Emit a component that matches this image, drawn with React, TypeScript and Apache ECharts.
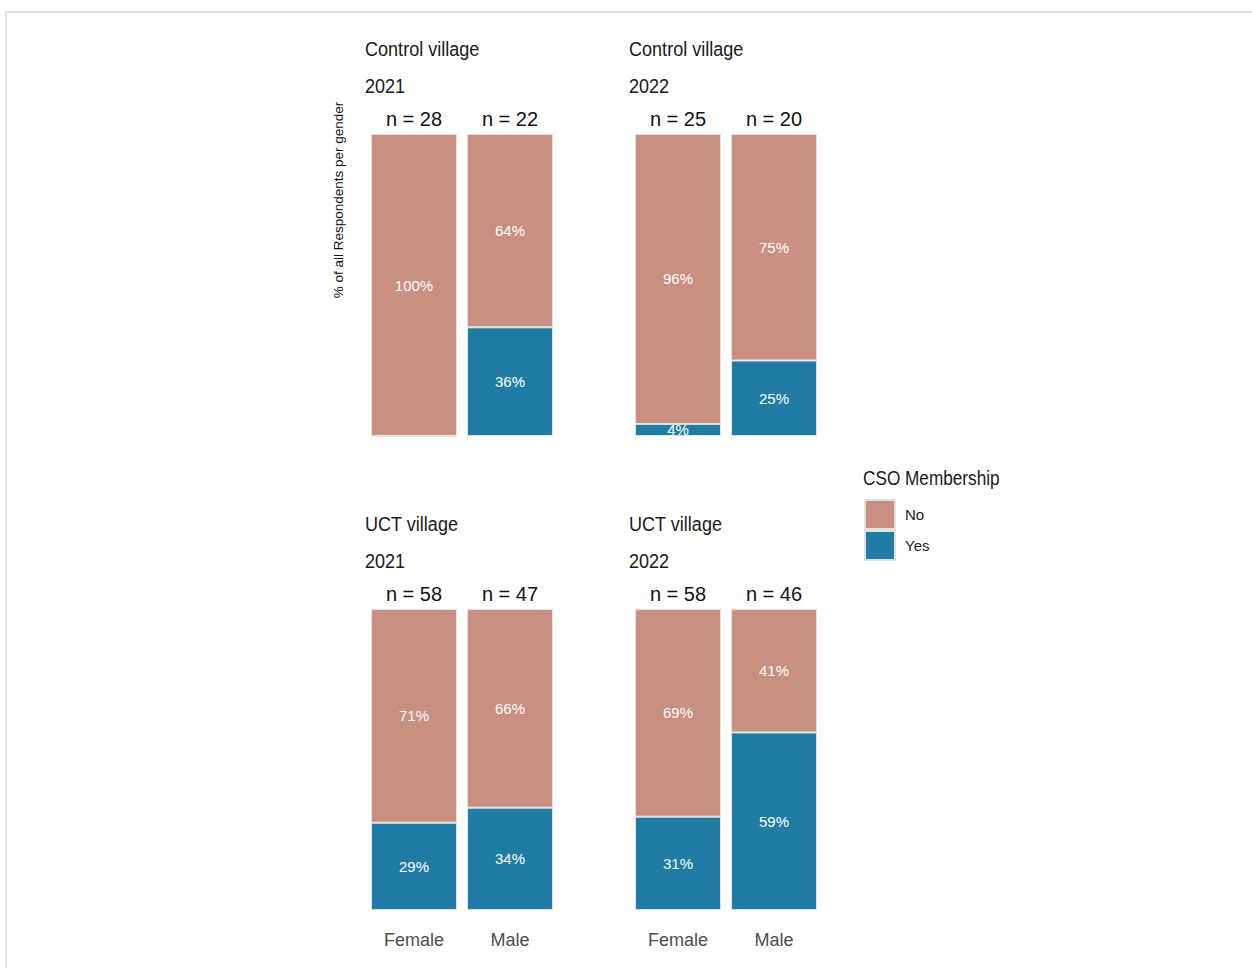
import React, { useEffect, useRef } from "react";
import * as echarts from "echarts";

const genders = ["Female", "Male"];
const panelVillages = ["Control village", "Control village", "UCT village", "UCT village"];
const panelYears = ["2021", "2022", "2021", "2022"];
const panelN = [
  [28, 22],
  [25, 20],
  [58, 47],
  [58, 46],
];
const yesValues = [
  [0, 36],
  [4, 25],
  [29, 34],
  [31, 59],
];
const noValues = [
  [100, 64],
  [96, 75],
  [71, 66],
  [69, 41],
];

const NO_COLOR = "#C98F80";
const YES_COLOR = "#217CA3";
const SANS = "'Liberation Sans', Arial, sans-serif";
const NARROW_SCALE = 0.86;

const gridPos = [
  { left: 366, top: 134, height: 302 },
  { left: 630, top: 134, height: 302 },
  { left: 366, top: 609, height: 301 },
  { left: 630, top: 609, height: 301 },
];

export default function App() {
  const ref = useRef<HTMLDivElement>(null);
  useEffect(() => {
    if (!ref.current) return;
    const chart = echarts.init(ref.current, null, { renderer: "svg" });
    const grids: any[] = [];
    const xAxes: any[] = [];
    const yAxes: any[] = [];
    const series: any[] = [];
    const graphics: any[] = [];

    const narrowText = (text: string, x: number, y: number, size: number) => ({
      type: "text",
      x,
      y,
      scaleX: NARROW_SCALE,
      style: { text, font: `${size}px ${SANS}`, fill: "#1a1a1a", verticalAlign: "middle" },
    });

    gridPos.forEach((g, i) => {
      grids.push({ left: g.left, top: g.top, width: 192, height: g.height, containLabel: false });
      const isBottom = i >= 2;
      xAxes.push({
        type: "category",
        gridIndex: i,
        data: genders,
        position: "bottom",
        axisLine: { show: false },
        axisTick: { show: false },
        splitLine: { show: false },
        axisLabel: {
          show: isBottom,
          margin: 21,
          fontFamily: SANS,
          fontSize: 18,
          color: "#4d4d4d",
        },
      });
      xAxes.push({
        type: "category",
        gridIndex: i,
        data: panelN[i].map((n) => `n = ${n}`),
        position: "top",
        axisLine: { show: false },
        axisTick: { show: false },
        splitLine: { show: false },
        axisLabel: {
          show: true,
          margin: 5,
          fontFamily: SANS,
          fontSize: 20,
          color: "#111",
        },
      });
      yAxes.push({
        type: "value",
        gridIndex: i,
        min: 0,
        max: 100,
        show: false,
        splitLine: { show: false },
      });
      const lbl = {
        show: true,
        position: "inside",
        color: "#ffffff",
        fontFamily: SANS,
        fontSize: 15,
        formatter: (p: any) => (p.value > 0 ? `${p.value}%` : ""),
      };
      series.push({
        type: "bar",
        name: "Yes",
        xAxisIndex: i * 2,
        yAxisIndex: i,
        stack: "s" + i,
        data: yesValues[i],
        barWidth: 86,
        itemStyle: { color: YES_COLOR, borderColor: "#e2e2e2", borderWidth: 1 },
        label: lbl,
      });
      series.push({
        type: "bar",
        name: "No",
        xAxisIndex: i * 2,
        yAxisIndex: i,
        stack: "s" + i,
        data: noValues[i],
        barWidth: 86,
        itemStyle: { color: NO_COLOR, borderColor: "#e2e2e2", borderWidth: 1 },
        label: lbl,
      });
      graphics.push(narrowText(panelVillages[i], g.left - 1, g.top - 86, 21));
      graphics.push(narrowText(panelYears[i], g.left - 1, g.top - 49, 21));
    });

    graphics.push({
      type: "rect",
      shape: { x: 6, y: 12, width: 1270, height: 1000 },
      style: { fill: "none", stroke: "#e3e5e5", lineWidth: 2 },
      silent: true,
    });
    graphics.push({
      type: "text",
      x: 338,
      y: 200,
      rotation: Math.PI / 2,
      style: {
        text: "% of all Respondents per gender",
        font: `13.5px ${SANS}`,
        fill: "#111",
        align: "center",
        verticalAlign: "middle",
      },
    });
    graphics.push(narrowText("CSO Membership", 863, 478, 20));

    chart.setOption({
      animation: false,
      backgroundColor: "#ffffff",
      grid: grids,
      xAxis: xAxes,
      yAxis: yAxes,
      series,
      legend: {
        data: ["No", "Yes"],
        orient: "vertical",
        left: 864,
        top: 499,
        padding: 0,
        itemWidth: 30,
        itemHeight: 29,
        itemGap: 0,
        icon: "rect",
        textStyle: { fontFamily: SANS, fontSize: 15, color: "#1a1a1a", padding: [0, 0, 0, 5] },
        selectedMode: false,
      },
      graphic: graphics,
    });
    return () => chart.dispose();
  }, []);
  return (
    <div
      ref={ref}
      style={{ position: "fixed", left: 0, top: 0, width: 1252, height: 968 }}
    />
  );
}
